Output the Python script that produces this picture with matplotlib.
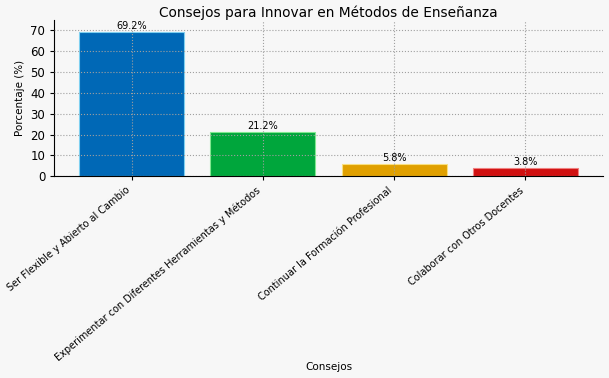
import matplotlib
matplotlib.use("Agg")
import matplotlib.pyplot as plt

categories = ["Ser Flexible y Abierto al Cambio",
              "Experimentar con Diferentes Herramientas y Métodos",
              "Continuar la Formación Profesional",
              "Colaborar con Otros Docentes"]
values = [69.2, 21.2, 5.8, 3.8]
colors = ["#0068b6", "#00a63c", "#e0a000", "#d01010"]
edge_colors = ["#7fd0f0", "#80e890", "#f8e080", "#f08080"]

bg = "#f7f7f7"
fig = plt.figure(figsize=(6.09, 3.78), dpi=100, facecolor=bg)
ax = fig.add_axes([0.089, 0.534, 0.901, 0.413], facecolor=bg)

x = list(range(len(categories)))
bars = ax.bar(x, values, color=colors, width=0.8, edgecolor=edge_colors, linewidth=0.8)
for xi, v in zip(x, values):
    ax.text(xi, v + 0.4, f"{v}%", ha="center", va="bottom", fontsize=7)

ax.set_ylim(0, 75)
ax.set_yticks(range(0, 71, 10))
ax.set_xticks(x)
ax.set_xticklabels(categories, rotation=40, ha="right", rotation_mode="default", fontsize=7)
ax.tick_params(axis="y", labelsize=8.5, length=3)
ax.tick_params(axis="x", length=3)
ax.set_ylabel("Porcentaje (%)", fontsize=7.5)
ax.set_xlabel("Consejos", fontsize=7.5)
ax.xaxis.set_label_coords(0.5, -1.19)
ax.set_title("Consejos para Innovar en Métodos de Enseñanza", fontsize=9.9, pad=2.5)
ax.grid(True, linestyle=":", color="#a0a0a0", linewidth=0.8)
ax.set_axisbelow(False)
for s in ["top", "right"]:
    ax.spines[s].set_visible(False)

fig.savefig("out.png", dpi=100, facecolor=bg)
